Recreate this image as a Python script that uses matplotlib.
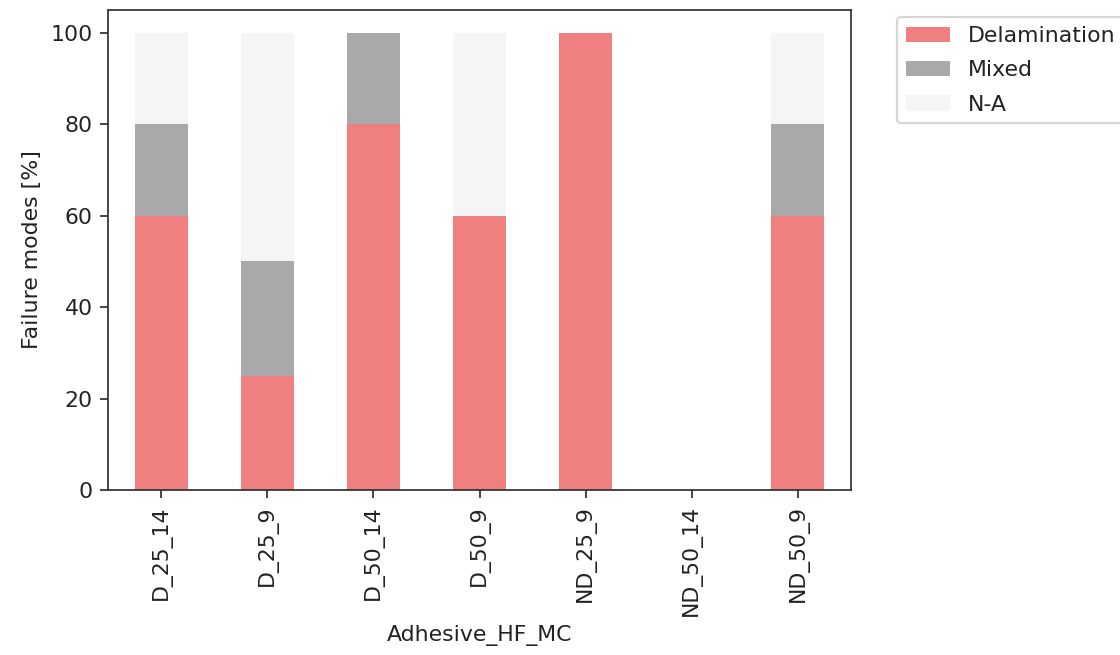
import matplotlib
matplotlib.use("Agg")
import matplotlib.pyplot as plt
import numpy as np

categories = ["D_25_14", "D_25_9", "D_50_14", "D_50_9", "ND_25_9", "ND_50_14", "ND_50_9"]
delamination = [60, 25, 80, 60, 100, 0, 60]
mixed = [20, 25, 20, 0, 0, 0, 20]
not_available = [20, 50, 0, 40, 0, 0, 20]

series = [
    ("Delamination", delamination, "lightcoral"),
    ("Mixed", mixed, "darkgray"),
    ("N-A", not_available, "whitesmoke"),
]

dpi = 158.4
fig = plt.figure(figsize=(1120 / dpi, 655 / dpi), dpi=dpi)
ax = fig.add_axes([108 / 1120, 1 - 490 / 655, (851 - 108) / 1120, (490 - 10) / 655])

x = np.arange(len(categories))
bottom = np.zeros(len(categories))
for label, vals, color in series:
    vals = np.asarray(vals, dtype=float)
    ax.bar(x, vals, width=0.5, bottom=bottom, color=color, label=label)
    bottom += vals

ax.set_xlim(-0.5, len(categories) - 0.5)
ax.set_ylim(0, 105)
ax.set_yticks([0, 20, 40, 60, 80, 100])
ax.set_xticks(x)
ax.set_xticklabels(categories, rotation=90)
ax.set_xlabel("Adhesive_HF_MC", color="#222222")
ax.set_ylabel("Failure modes [%]", color="#222222")
ax.tick_params(colors="#333333", labelcolor="#222222")
for s in ax.spines.values():
    s.set_color("#333333")

leg = ax.legend(bbox_to_anchor=(1.062, 0.985), loc="upper left", borderaxespad=0.0,
                labelspacing=0.65)
for t in leg.get_texts():
    t.set_color("#222222")

fig.savefig("out.png", dpi=dpi)
